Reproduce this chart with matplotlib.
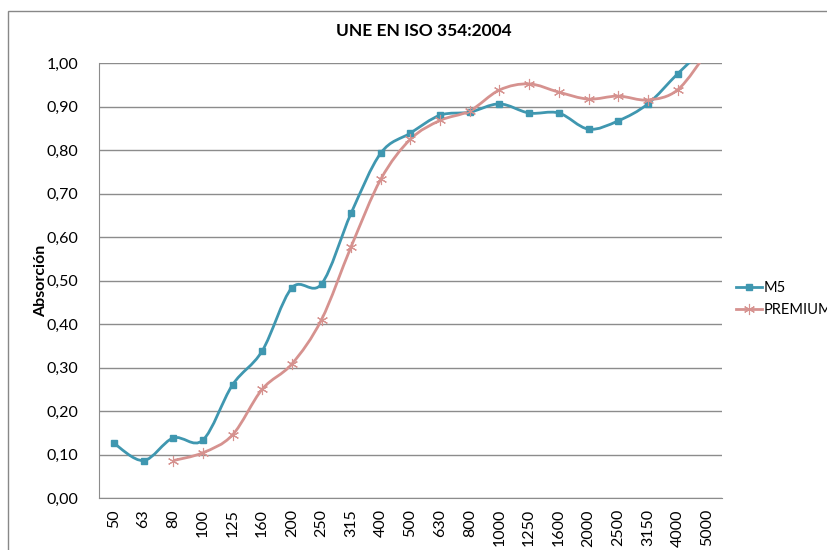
import matplotlib
matplotlib.use('Agg')
import matplotlib.pyplot as plt
from matplotlib.path import Path
from matplotlib.patches import PathPatch, Rectangle
from matplotlib.lines import Line2D

plt.rcParams['font.family'] = ['Lato', 'DejaVu Sans']

frequencies = ['50', '63', '80', '100', '125', '160', '200', '250', '315', '400',
               '500', '630', '800', '1000', '1250', '1600', '2000', '2500', '3150',
               '4000', '5000']
m5 = [0.126, 0.086, 0.138, 0.133, 0.260, 0.338, 0.483, 0.492, 0.655, 0.793,
      0.839, 0.880, 0.887, 0.906, 0.885, 0.885, 0.848, 0.867, 0.906, 0.975, 1.04]
premium = [None, None, 0.086, 0.104, 0.145, 0.250, 0.308, 0.410, 0.578, 0.733,
           0.825, 0.868, 0.890, 0.938, 0.952, 0.933, 0.917, 0.924, 0.915, 0.938, 1.025]

M5_COLOR = '#3F97B0'
PREM_COLOR = '#D6928F'
GRID = '#8C8C8C'


def smooth_path(xs, ys):
    # Excel-style smoothed line: Bezier segments through every point
    pts = list(zip(xs, ys))
    verts = [pts[0]]
    codes = [Path.MOVETO]
    n = len(pts)
    for i in range(n - 1):
        p0 = pts[i - 1] if i > 0 else pts[i]
        p1 = pts[i]
        p2 = pts[i + 1]
        p3 = pts[i + 2] if i + 2 < n else pts[i + 1]
        c1 = (p1[0] + (p2[0] - p0[0]) / 6, p1[1] + (p2[1] - p0[1]) / 6)
        c2 = (p2[0] - (p3[0] - p1[0]) / 6, p2[1] - (p3[1] - p1[1]) / 6)
        verts += [c1, c2, p2]
        codes += [Path.CURVE4] * 3
    return Path(verts, codes)


fig = plt.figure(figsize=(8.27, 5.5), dpi=100)
ax = fig.add_axes([99 / 827, 1 - 498 / 550, 623 / 827, 435 / 550])

series = [('M5', m5, M5_COLOR, 's', 5, 1.0),
          ('PREMIUM', premium, PREM_COLOR, (6, 2, 0), 8, 0.8)]
handles = []
for name, vals, color, marker, ms, mew in series:
    xs = [i for i, v in enumerate(vals) if v is not None]
    ys = [v for v in vals if v is not None]
    patch = PathPatch(smooth_path(xs, ys), facecolor='none', edgecolor=color,
                      lw=2, zorder=3)
    ax.add_patch(patch)
    ax.plot(xs, ys, linestyle='none', marker=marker, ms=ms, color=color,
            mec=color, mew=mew, zorder=4)
    handles.append(Line2D([], [], color=color, lw=2, marker=marker, ms=ms,
                          mec=color, mew=mew, label=name))

ax.set_xlim(-0.5, len(frequencies) - 0.5)
ax.set_ylim(0, 1.0)
ax.set_xticks(range(len(frequencies)))
ax.set_xticklabels(frequencies, rotation=90)
yt = [i / 10 for i in range(11)]
ax.set_yticks(yt)
ax.set_yticklabels([f'{v:.2f}'.replace('.', ',') for v in yt])
ax.tick_params(length=0, labelsize=11.5)
ax.tick_params(axis='y', pad=15)
ax.tick_params(axis='x', pad=8)
ax.grid(axis='y', color=GRID, lw=1)
ax.set_axisbelow(True)
for s in ['top', 'right']:
    ax.spines[s].set_visible(False)
ax.spines['left'].set_color(GRID)
ax.spines['bottom'].set_color(GRID)

ax.set_ylabel('Absorción', fontsize=11.5, fontweight='bold', labelpad=-1)
fig.text(0.5 + 10 / 827, 1 - 31 / 550, 'UNE EN ISO 354:2004', ha='center',
         va='center', fontsize=12.5, fontweight='bold')

fig.legend(handles=handles, loc='center left', frameon=False,
           bbox_to_anchor=(730 / 827, 1 - 299 / 550), fontsize=10.5,
           handlelength=1.8, handletextpad=0.1, labelspacing=0.6, borderaxespad=0)

fig.patches.append(Rectangle((8 / 827, -0.1), 1.2, 1.1 - 11 / 550,
                             transform=fig.transFigure, fill=False,
                             edgecolor='#888888', lw=1))

fig.savefig('out.png', dpi=100)
